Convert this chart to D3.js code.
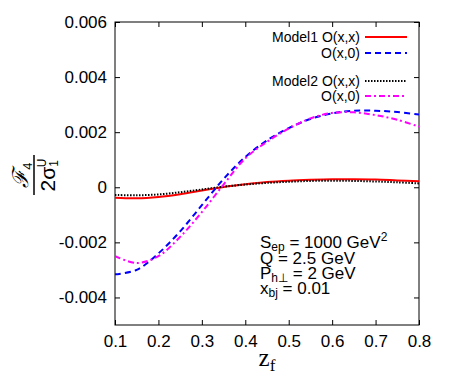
<!DOCTYPE html>
<html>
<head>
<meta charset="utf-8">
<script src="https://cdn.jsdelivr.net/npm/d3@7"></script>
<style>
  body { margin: 0; background: #fff; }
  svg { display: block; font-family: "Liberation Sans", Arial, sans-serif; }
</style>
</head>
<body>
<div id="container"></div>
<script>
// z_f sample points
const zf = [0.1, 0.15, 0.2, 0.25, 0.3, 0.35, 0.4, 0.45, 0.5, 0.55, 0.6, 0.65, 0.7, 0.75, 0.8];

// Model1
const m1xx = [-0.00038, -0.0004, -0.00035, -0.00025, -0.00012, 0.00001, 0.00011, 0.00019, 0.00024, 0.00027, 0.00029, 0.00029, 0.00028, 0.00025, 0.00022];
const m1x0 = [-0.00316, -0.003, -0.0024, -0.0016, -0.00065, 0.0003, 0.0011, 0.0017, 0.00215, 0.00248, 0.00268, 0.00278, 0.00278, 0.00273, 0.00264];
// Model2
const m2xx = [-0.00028, -0.00029, -0.00026, -0.00018, -0.00008, 0.00002, 0.0001, 0.00016, 0.0002, 0.00023, 0.00024, 0.00023, 0.00021, 0.00018, 0.00014];
const m2x0 = [-0.0025, -0.00275, -0.0025, -0.0018, -0.0009, 0.0001, 0.00105, 0.00165, 0.00213, 0.0025, 0.0027, 0.00272, 0.00262, 0.00245, 0.0022];

const xTicks = [0.1, 0.2, 0.3, 0.4, 0.5, 0.6, 0.7, 0.8];
const yTicks = [-0.004, -0.002, 0, 0.002, 0.004, 0.006];

const series = [
  {name: "Model1 O(x,x)", values: m1xx, color: "#ff0000", dash: null, width: 2},
  {name: "O(x,0)", values: m1x0, color: "#0000ff", dash: "6,4", width: 2},
  {name: "Model2 O(x,x)", values: m2xx, color: "#000000", dash: "1.5,1.5", width: 2},
  {name: "O(x,0)", values: m2x0, color: "#ff00ff", dash: "6,3,2,3", width: 2}
];

const width = 450, height = 382;
const marginLeft = 115, marginRight = 31, marginTop = 22, marginBottom = 57;

const x = d3.scaleLinear().domain([0.1, 0.8]).range([marginLeft, width - marginRight]);
const y = d3.scaleLinear().domain([-0.005, 0.006]).range([height - marginBottom, marginTop]);

const svg = d3.create("svg")
    .attr("width", width)
    .attr("height", height)
    .attr("viewBox", [0, 0, width, height]);

svg.append("defs").append("clipPath").attr("id", "clip")
  .append("rect")
    .attr("x", marginLeft).attr("y", marginTop)
    .attr("width", width - marginLeft - marginRight)
    .attr("height", height - marginTop - marginBottom);

// axes with inward ticks, mirrored on all sides
const fmtY = d => d === 0 ? "0" : d3.format(".3f")(d).replace("−", "-");
const tl = 5;

const gx = svg.append("g")
    .attr("transform", `translate(0,${height - marginBottom})`)
    .call(d3.axisBottom(x).tickValues(xTicks).tickSize(-tl).tickPadding(10).tickFormat(d3.format(".1f")));
const gxt = svg.append("g")
    .attr("transform", `translate(0,${marginTop})`)
    .call(d3.axisTop(x).tickValues(xTicks).tickSize(-tl).tickFormat(""));
const gy = svg.append("g")
    .attr("transform", `translate(${marginLeft},0)`)
    .call(d3.axisLeft(y).tickValues(yTicks).tickSize(-tl).tickPadding(8).tickFormat(fmtY));
const gyr = svg.append("g")
    .attr("transform", `translate(${width - marginRight},0)`)
    .call(d3.axisRight(y).tickValues(yTicks).tickSize(-tl).tickFormat(""));

[gx, gxt, gy, gyr].forEach(g => {
  g.select(".domain").remove();
  g.selectAll("line").attr("stroke", "#000");
  g.selectAll("text").attr("font-size", 17).attr("fill", "#000")
    .style("font-family", "'Liberation Sans', Arial, sans-serif");
});

svg.append("rect")
    .attr("x", marginLeft).attr("y", marginTop)
    .attr("width", width - marginLeft - marginRight)
    .attr("height", height - marginTop - marginBottom)
    .attr("fill", "none").attr("stroke", "#000").attr("stroke-width", 1);

// curves
const line = d3.line()
    .x((d, i) => x(zf[i]))
    .y(d => y(d))
    .curve(d3.curveCatmullRom.alpha(0.5));

svg.append("g").attr("clip-path", "url(#clip)")
  .selectAll("path")
  .data([series[0], series[2], series[1], series[3]])
  .join("path")
    .attr("d", d => line(d.values))
    .attr("fill", "none")
    .attr("stroke", d => d.color)
    .attr("stroke-width", d => d.width)
    .attr("stroke-dasharray", d => d.dash);

// legend
const legRows = [37, 53, 81, 96];
const leg = svg.append("g");
series.forEach((s, i) => {
  leg.append("text")
      .attr("x", 360).attr("y", legRows[i]).attr("dy", "0.35em")
      .attr("text-anchor", "end").attr("font-size", 14)
      .text(s.name);
  leg.append("line")
      .attr("x1", 365).attr("x2", 407)
      .attr("y1", legRows[i]).attr("y2", legRows[i])
      .attr("stroke", s.color).attr("stroke-width", s.width)
      .attr("stroke-dasharray", s.dash);
});

// parameter annotation
const ann = svg.append("g").attr("font-size", 17);
function annLine(yy, parts) {
  const t = ann.append("text").attr("x", 260).attr("y", yy);
  parts.forEach(p => {
    const ts = t.append("tspan").text(p.t);
    if (p.sub) ts.attr("font-size", 12).attr("dy", 3);
    if (p.sup) ts.attr("font-size", 12).attr("dy", -7);
    if (p.back) ts.attr("dy", p.back);
  });
}
annLine(248, [{t: "S"}, {t: "ep", sub: true}, {t: " = 1000 GeV", back: -3}, {t: "2", sup: true}]);
annLine(264, [{t: "Q = 2.5 GeV"}]);
annLine(279, [{t: "P"}, {t: "h⊥", sub: true}, {t: " = 2 GeV", back: -3}]);
annLine(294, [{t: "x"}, {t: "bj", sub: true}, {t: " = 0.01", back: -3}]);

// x label
const xl = svg.append("text")
    .attr("x", 267).attr("y", 366)
    .attr("text-anchor", "middle")
    .style("font-family", "'Liberation Serif', 'Times New Roman', serif")
    .attr("font-size", 25);
xl.append("tspan").text("z");
xl.append("tspan").attr("font-size", 17).attr("dy", 5).text("f");

// y label (fraction)
const yl = svg.append("g").attr("transform", "translate(34,175) rotate(-90)");
yl.append("line").attr("x1", -20).attr("x2", 20).attr("y1", 0).attr("y2", 0)
    .attr("stroke", "#000").attr("stroke-width", 1.5);
const num = yl.append("text").attr("x", 0).attr("y", -6).attr("text-anchor", "middle");
num.append("tspan").attr("font-size", 22).attr("font-style", "italic")
    .style("font-family", "'DejaVu Serif', serif").text("ℱ");
num.append("tspan").attr("font-size", 13).attr("dy", 4).text("4");
const den = yl.append("text").attr("x", 0).attr("y", 21).attr("text-anchor", "middle")
    .attr("font-size", 21);
den.append("tspan").text("2σ");
den.append("tspan").attr("font-size", 12).attr("dy", 3).text("1");
den.append("tspan").attr("font-size", 12).attr("dx", -7).attr("dy", -12).text("U");

document.getElementById("container").append(svg.node());
</script>
</body>
</html>
